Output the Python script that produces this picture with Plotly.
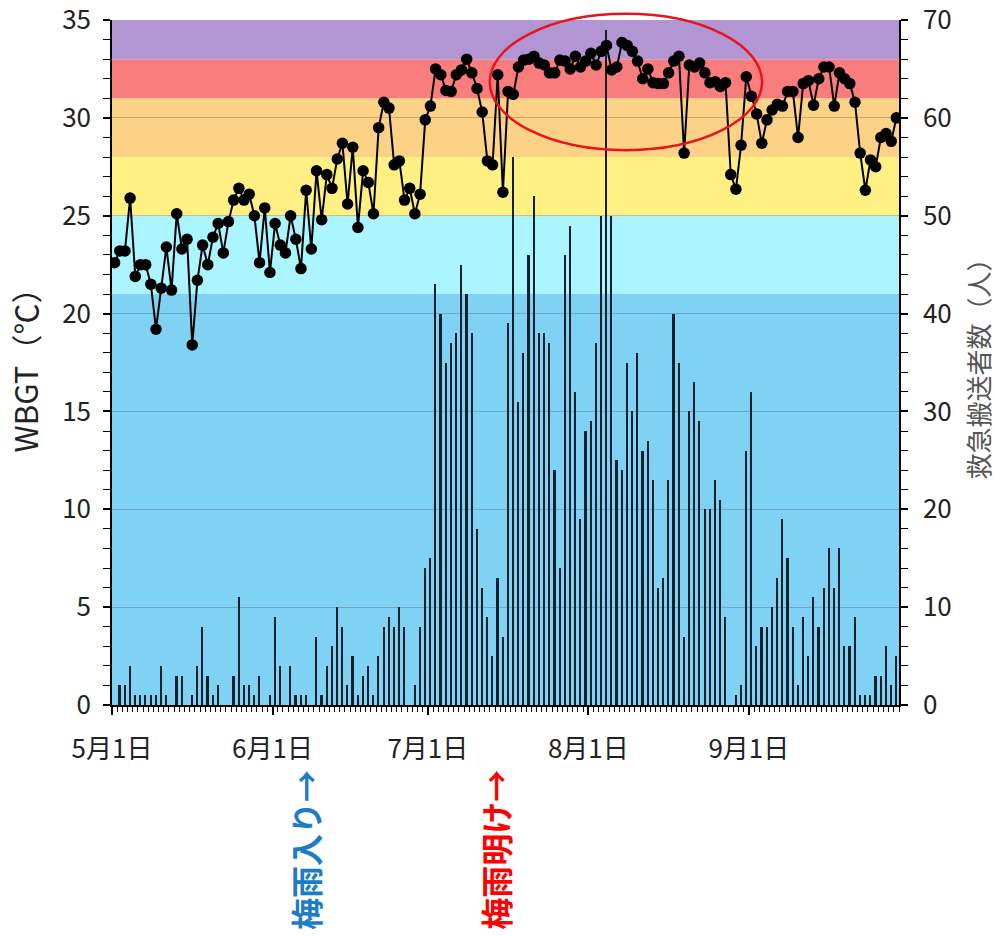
import pandas as pd
import plotly.graph_objects as go

# ---- data ----
wbgt = [22.6, 23.2, 23.2, 25.9, 21.9, 22.5, 22.5, 21.5, 19.2, 21.3, 23.4, 21.2, 25.1, 23.3, 23.8, 18.4,
        21.7, 23.5, 22.5, 23.9, 24.6, 23.1, 24.7, 25.8, 26.4, 25.8, 26.1, 25.0, 22.6, 25.4, 22.1, 24.6,
        23.5, 23.1, 25.0, 23.8, 22.3,
        26.3, 23.3, 27.3, 24.8, 27.1, 26.4, 27.9, 28.7, 25.6, 28.5, 24.4, 27.3, 26.7, 25.1, 29.5, 30.8,
        30.5, 27.6, 27.8, 25.8, 26.4, 25.1, 26.1, 29.9, 30.6, 32.5, 32.2, 31.4, 31.35, 32.2, 32.45, 33.0,
        32.3, 31.5, 30.3, 27.8, 27.6, 32.2, 26.2, 31.35, 31.2, 32.6, 32.95, 33.0, 33.15, 32.8, 32.7, 32.3,
        32.3, 32.95, 32.9, 32.5, 33.15, 32.6, 32.9, 33.3, 32.7, 33.4, 33.7, 32.45, 32.6, 33.85, 33.7, 33.4,
        32.9, 32.0, 32.5, 31.8, 31.75,
        31.75, 32.3, 32.9, 33.15, 28.2, 32.7, 32.6, 32.8, 32.3, 31.8, 31.85, 31.6, 31.8, 27.1, 26.35, 28.6,
        32.1, 31.1, 30.2, 28.7, 29.9, 30.4, 30.7, 30.6, 31.35, 31.35, 29.0, 31.75, 31.9, 30.65, 32.0, 32.6,
        32.6, 30.6, 32.3, 32.0, 31.75, 30.8, 28.2, 26.3, 27.85, 27.5, 29.0, 29.2, 28.8, 30.0]

patients = [0, 2, 2, 4, 1, 1, 1, 1, 1, 4, 1, 0, 3, 3, 0, 1, 4, 8, 3, 1, 2, 0, 0, 3, 11, 2, 2, 1, 3, 0,
            1, 9, 4, 0, 4, 1, 1, 1, 0, 7, 1, 4, 6, 10, 8, 2, 5, 1, 3, 4, 1, 5, 8, 9, 8, 10, 8, 0, 2, 8,
            14, 15, 43,
            40, 35, 37, 38, 45, 42, 38, 18, 12, 9, 5, 13, 7, 39, 56, 31, 36, 46, 52, 38, 38, 37, 24, 14,
            46, 49, 32, 19, 28, 29, 37, 50, 69, 50, 25,
            24, 35, 30, 36, 26, 27, 23, 12, 13, 23, 40, 35, 7, 30, 33, 29, 20, 20, 23, 21, 9, 0, 1, 2, 26,
            32, 6, 8, 8, 10, 13, 19, 15, 8, 2, 9, 5, 11, 8, 12, 16, 12, 16, 6, 6, 9, 1, 1, 1, 3, 3, 6, 2, 5]

start_date = "2019-05-01"
end_date = "2019-09-30"
dates = pd.date_range(start_date + " 12:00", periods=len(wbgt), freq="D")

month_ticks = ["2019-05-01", "2019-06-01", "2019-07-01", "2019-08-01", "2019-09-01"]
month_labels = ["5月1日", "6月1日", "7月1日", "8月1日", "9月1日"]

band_edges = [0, 21, 25, 28, 31, 33, 35]
band_colors = ["#80D2F5", "#AAF5FF", "#FEF082", "#FCD287", "#FA7D7D", "#B296D4"]

rainy_start = ("2019-06-07 06:00", "梅雨入り→", "#1C7CC8")
rainy_end = ("2019-07-13 22:00", "梅雨明け→", "#FF0000")

left_title = "WBGT（℃）"
right_title = "救急搬送者数（人）"

FONT = "Noto Sans CJK JP, Noto Sans, sans-serif"
DAY_MS = 86400000

fig = go.Figure()
fig.add_trace(go.Bar(x=dates, y=patients, yaxis="y", width=0.32 * DAY_MS,
                     marker=dict(color="#13202c", line=dict(width=0)), showlegend=False))
fig.add_trace(go.Scatter(x=dates, y=wbgt, yaxis="y2", mode="lines+markers",
                         line=dict(color="black", width=2),
                         marker=dict(size=11.5, color="black"), showlegend=False))

shapes = []
for lo, hi, col in zip(band_edges[:-1], band_edges[1:], band_colors):
    shapes.append(dict(type="rect", xref="paper", yref="y2", x0=0, x1=1, y0=lo, y1=hi,
                       fillcolor=col, line=dict(width=0), layer="below"))
shapes.append(dict(type="circle", xref="paper", yref="paper", x0=0.480, x1=0.826,
                   y0=0.810, y1=1.009, line=dict(color="#E8141B", width=2.5), layer="above"))

annotations = []
for xd, txt, col in (rainy_start, rainy_end):
    annotations.append(dict(text="<b>" + txt + "</b>", xref="x", yref="paper", x=xd, y=-0.2117,
                            textangle=-90, showarrow=False, xanchor="center", yanchor="middle",
                            font=dict(family=FONT, size=32, color=col)))

tickfont = dict(family=FONT, size=26, color="#222")

fig.update_layout(
    width=997, height=936,
    margin=dict(l=112, r=98, t=20, b=231),
    paper_bgcolor="white", plot_bgcolor="rgba(0,0,0,0)",
    font=dict(family=FONT, size=24, color="#222"),
    bargap=0,
    shapes=shapes, annotations=annotations,
    xaxis=dict(type="date", range=[start_date, end_date], tickmode="array", automargin=False,
               tickvals=month_ticks, ticktext=month_labels, ticks="outside", ticklen=8,
               tickwidth=1.5, tickcolor="black", showline=True, linecolor="black", linewidth=1.5,
               showgrid=False, zeroline=False, ticklabelstandoff=12, tickfont=tickfont,
               ticklabeloverflow="allow",
               minor=dict(dtick=DAY_MS, tick0=start_date, ticks="outside", ticklen=5,
                          tickcolor="black", tickwidth=1, showgrid=False)),
    yaxis=dict(side="right", range=[0, 70], tickmode="array", tickvals=list(range(0, 71, 10)),
               automargin=False, ticklabeloverflow="allow",
               title=dict(text=right_title, standoff=20,
                          font=dict(family=FONT, size=26, color="#555")),
               ticks="outside", ticklen=7, tickwidth=1.5, tickcolor="black",
               showline=True, linecolor="black", linewidth=1.5, zeroline=False,
               showgrid=True, gridcolor="rgba(60,60,60,0.28)", gridwidth=1,
               ticklabelstandoff=10, tickfont=tickfont,
               minor=dict(dtick=2, ticks="outside", ticklen=7, tickcolor="black", tickwidth=1,
                          showgrid=False)),
    yaxis2=dict(overlaying="y", side="left", range=[0, 35], tickmode="array", automargin=False,
                ticklabeloverflow="allow",
                title=dict(text=left_title, standoff=14,
                           font=dict(family=FONT, size=31, color="#222")),
                tickvals=list(range(0, 36, 5)), ticks="outside", ticklen=7, tickwidth=1.5,
                tickcolor="black", showline=True, linecolor="black", linewidth=1.5,
                zeroline=False, showgrid=False, ticklabelstandoff=7, tickfont=tickfont,
                minor=dict(dtick=1, ticks="outside", ticklen=7, tickcolor="black", tickwidth=1,
                           showgrid=False)),
)

fig.write_html("out.html", config={"displayModeBar": False},
               post_script="document.body.style.margin='0';document.body.style.overflow='hidden';")
